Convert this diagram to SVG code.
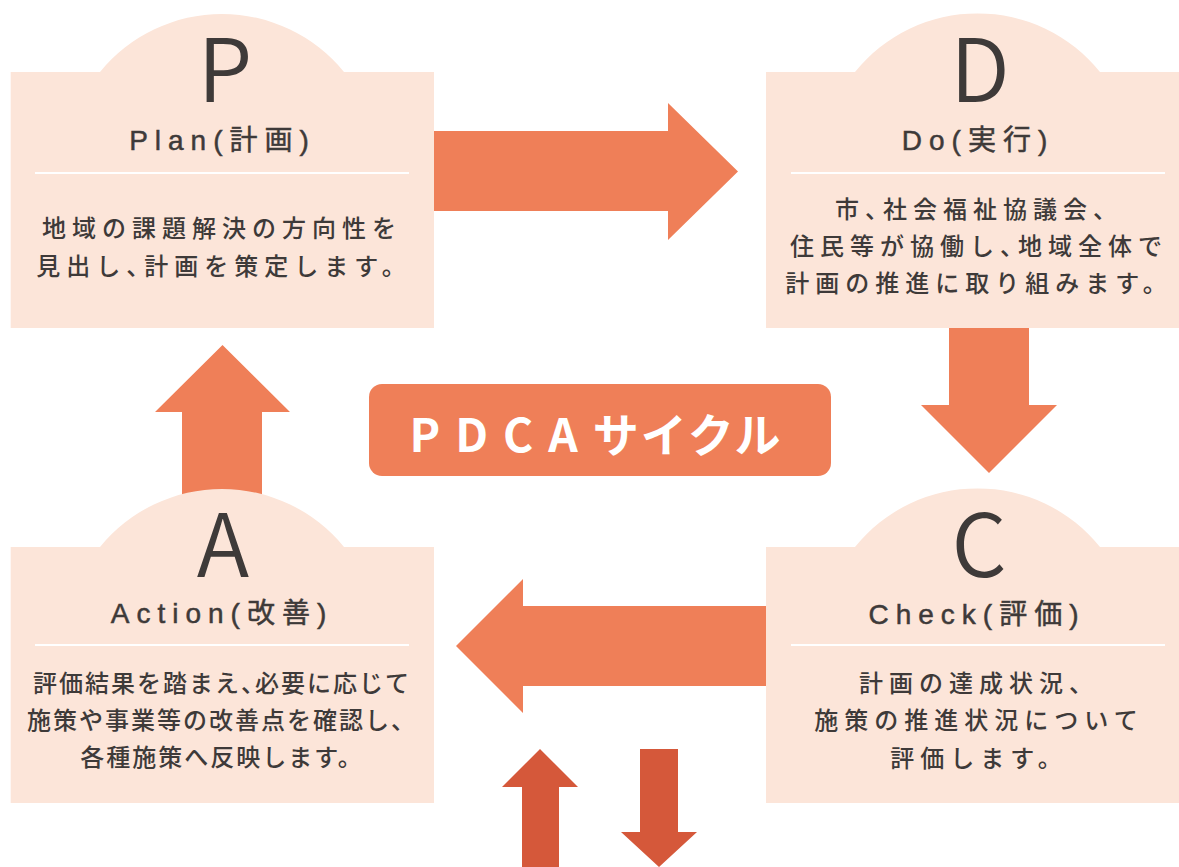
<svg xmlns="http://www.w3.org/2000/svg" width="1179" height="867" viewBox="0 0 1179 867">
<style>
.box{fill:#FCE5D9}
.arr{fill:#EF7F58}
.arr2{fill:#D5583A}
.sep{stroke:#FFFFFF;stroke-width:2}
text{font-family:"Noto Sans CJK JP","Noto Sans",sans-serif;fill:#3E3A39;text-anchor:middle}
.big{font-size:87px;font-weight:350}
.ttl{font-family:"Liberation Sans","Noto Sans CJK JP",sans-serif;font-size:28px;font-weight:400;letter-spacing:7px;stroke:#3E3A39;stroke-width:0.5px}
.body{font-size:24px;font-weight:500;letter-spacing:6px}
.bodya{font-size:24px;font-weight:500;letter-spacing:2px}
.n{letter-spacing:-6px}
.na{letter-spacing:-10px}
.lbl{font-size:46px;font-weight:700;fill:#FFFFFF}
</style>
<rect width="1179" height="867" fill="#FFFFFF"/>
<g id="connectors">
<polygon class="arr" points="434,131 668,131 668,103 738,171.5 668,240 668,211 434,211"/>
<polygon class="arr" points="949,328 1029,328 1029,405 1057,405 989,473 921,405 949,405"/>
<polygon class="arr" points="766,606 523,606 523,579 456,646 523,713 523,686 766,686"/>
<polygon class="arr" points="182,500 182,412 155,412 222.5,345 290,412 262,412 262,500"/>
<polygon class="arr2" points="522,867 522,787 502,787 540,749 578,787 559,787 559,867"/>
<polygon class="arr2" points="640,749 678,749 678,832 697,832 659,867 621,832 640,832"/>
</g>
<g id="node-p">
<path class="box" d="M10.7,72 H100 A157.3,157.3 0 0 1 344,72 H434 V328 H10.7 Z"/>
<text class="big" x="225" y="102">P</text>
<text class="ttl" x="222.5" y="150">Plan(計画)</text>
<line class="sep" x1="35" y1="173" x2="409" y2="173"/>
<text class="body" x="222" y="237">地域の課題解決の方向性を</text>
<text class="body" x="224" y="275">見出し<tspan class="n">、</tspan>計画を策定します。</text>
</g>
<g id="node-d">
<path class="box" d="M766,72 H855 A157.3,157.3 0 0 1 1100,72 H1189 V328 H766 Z"/>
<text class="big" x="980" y="102">D</text>
<text class="ttl" x="978" y="150">Do(実行)</text>
<line class="sep" x1="791" y1="173" x2="1165" y2="173"/>
<text class="body" x="979" y="218">市<tspan class="n">、</tspan>社会福祉協議会、</text>
<text class="body" x="979" y="255">住民等が協働し<tspan class="n">、</tspan>地域全体で</text>
<text class="body" x="979" y="292">計画の推進に取り組みます。</text>
</g>
<g id="node-a">
<path class="box" d="M10.7,547 H100 A157.3,157.3 0 0 1 344,547 H434 V803 H10.7 Z"/>
<text class="big" x="223" y="577">A</text>
<text class="ttl" x="222" y="623">Action(改善)</text>
<line class="sep" x1="35" y1="645" x2="409" y2="645"/>
<text class="bodya" x="222" y="692">評価結果を踏まえ<tspan class="na">、</tspan>必要に応じて</text>
<text class="bodya" x="222" y="729">施策や事業等の改善点を確認し、</text>
<text class="bodya" x="222" y="766">各種施策へ反映します。</text>
</g>
<g id="node-c">
<path class="box" d="M766,547 H855 A157.3,157.3 0 0 1 1100,547 H1189 V803 H766 Z"/>
<text class="big" x="979" y="577">C</text>
<text class="ttl" x="977" y="624">Check(評価)</text>
<line class="sep" x1="791" y1="645" x2="1165" y2="645"/>
<text class="body" x="979" y="692">計画の達成状況、</text>
<text class="body" x="979" y="729">施策の推進状況について</text>
<text class="body" x="979" y="767">評価します。</text>
</g>
<g id="node-label">
<rect x="369" y="384" width="462" height="92" rx="13" fill="#EF7F58"/>
<text class="lbl" x="596" y="452"><tspan letter-spacing="15">PDCA</tspan><tspan letter-spacing="2">サイクル</tspan></text>
</g>
</svg>
